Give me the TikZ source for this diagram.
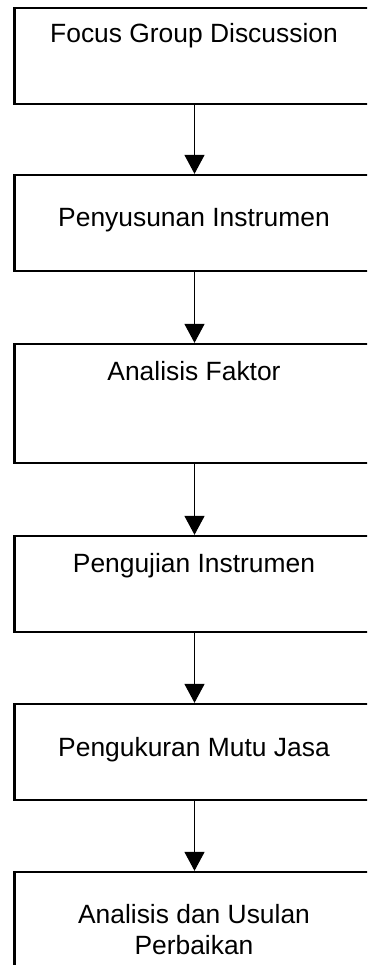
\documentclass[tikz,border=0pt]{standalone}
\usepackage{fontspec}
\setmainfont{Liberation Sans}
\usetikzlibrary{arrows.meta}
\begin{document}
\begin{tikzpicture}[x=1pt,y=1pt,
  boxstyle/.style={draw=black, line width=2.3pt, rectangle, minimum width=361.5pt, inner sep=0pt},
  labelstyle/.style={font=\fontsize{26.4}{31}\selectfont, inner sep=0pt, align=center},
  flowarrow/.style={draw=black, line width=1.3pt, -{Triangle[width=20pt,length=19pt]}}]
\useasboundingbox (0,0) rectangle (367,-965);
\clip (0,0) rectangle (367,-965);
\node[boxstyle, minimum height=96pt] (b1) at (195.25,-56) {};
\node[boxstyle, minimum height=96pt] (b2) at (195.25,-223) {};
\node[boxstyle, minimum height=119pt] (b3) at (195.25,-403.5) {};
\node[boxstyle, minimum height=96pt] (b4) at (195.25,-584) {};
\node[boxstyle, minimum height=96pt] (b5) at (195.25,-752) {};
\node[boxstyle, minimum height=110pt] (b6) at (195.25,-927) {};
\node[labelstyle, anchor=base] (t1) at (194,-43) {Focus Group Discussion};
\node[labelstyle, anchor=base] (t2) at (194,-227) {Penyusunan Instrumen};
\node[labelstyle, anchor=base] (t3) at (194,-380) {Analisis Faktor};
\node[labelstyle, anchor=base] (t4) at (194,-572.5) {Pengujian Instrumen};
\node[labelstyle, anchor=base] (t5) at (194,-756) {Pengukuran Mutu Jasa};
\node[labelstyle, anchor=base] (t6) at (194,-923) {Analisis dan Usulan};
\node[labelstyle, anchor=base] (t7) at (194,-954) {Perbaikan};
\draw[flowarrow] (b1.south -| 194.5,0) -- (b2.north -| 194.5,0);
\draw[flowarrow] (b2.south -| 194.5,0) -- (b3.north -| 194.5,0);
\draw[flowarrow] (b3.south -| 194.5,0) -- (b4.north -| 194.5,0);
\draw[flowarrow] (b4.south -| 194.5,0) -- (b5.north -| 194.5,0);
\draw[flowarrow] (b5.south -| 194.5,0) -- (b6.north -| 194.5,0);
\end{tikzpicture}
\end{document}
